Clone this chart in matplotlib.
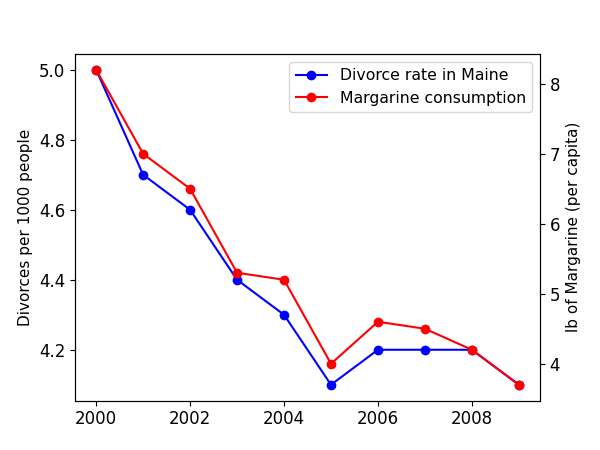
import matplotlib
matplotlib.use("Agg")
import matplotlib.pyplot as plt

years = [2000, 2001, 2002, 2003, 2004, 2005, 2006, 2007, 2008, 2009]
divorce_rate = [5.0, 4.7, 4.6, 4.4, 4.3, 4.1, 4.2, 4.2, 4.2, 4.1]
margarine = [8.2, 7.0, 6.5, 5.3, 5.2, 4.0, 4.6, 4.5, 4.2, 3.7]

plt.rcParams['font.size'] = 12

fig, ax1 = plt.subplots(figsize=(6, 4.5), dpi=100)
l1, = ax1.plot(years, divorce_rate, 'o-', color='blue', label='Divorce rate in Maine')
ax1.set_ylabel('Divorces per 1000 people', fontsize=11)

ax2 = ax1.twinx()
l2, = ax2.plot(years, margarine, 'o-', color='red', label='Margarine consumption')
ax2.set_ylabel('lb of Margarine (per capita)', fontsize=11)

ax1.legend(handles=[l1, l2], loc='upper right', fontsize=11.3)

fig.savefig('out.png')
